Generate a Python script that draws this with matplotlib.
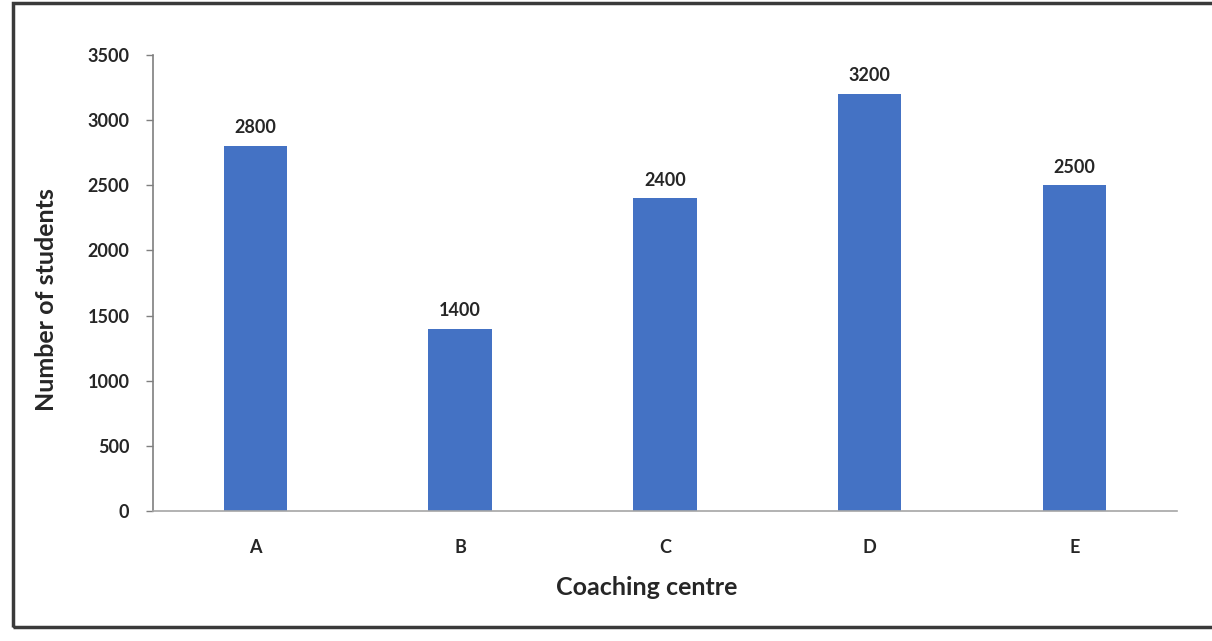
import matplotlib
matplotlib.use("Agg")
import matplotlib.pyplot as plt
from matplotlib.patches import Rectangle

categories = ["A", "B", "C", "D", "E"]
students = [2800, 1400, 2400, 3200, 2500]
yticks = [0, 500, 1000, 1500, 2000, 2500, 3000, 3500]

plt.rcParams['font.family'] = ['Lato', 'DejaVu Sans']

fig = plt.figure(figsize=(12.12, 6.41), dpi=100)
ax = fig.add_axes([0.1262, 0.2028, 0.8448, 0.7114])

x = list(range(len(categories)))
bars = ax.bar(x, students, width=0.31, color="#4472C4", zorder=2)

for xi, v in zip(x, students):
    ax.annotate(f"{v}", (xi, v), xytext=(0, 7), textcoords="offset points",
                ha="center", va="bottom", fontsize=13, fontweight="bold", color="#262626")

ax.set_xlim(-0.5, len(categories) - 0.5)
ax.set_ylim(0, 3500)
ax.set_yticks(yticks)
ax.set_xticks(x)
ax.set_xticklabels(categories)

for s in ["top", "right"]:
    ax.spines[s].set_visible(False)
ax.spines["left"].set_color("#7f7f7f")
ax.spines["bottom"].set_color("#a6a6a6")
ax.spines["left"].set_linewidth(1.2)
ax.spines["bottom"].set_linewidth(1.2)

ax.tick_params(axis="y", length=5, width=1, color="#7f7f7f", pad=12,
               labelsize=13, labelcolor="#262626")
ax.tick_params(axis="x", length=0, pad=20, labelsize=13, labelcolor="#262626")
for lab in ax.get_yticklabels() + ax.get_xticklabels():
    lab.set_fontweight("bold")

ax.set_xlabel("Coaching centre", fontsize=18, fontweight="bold", color="#262626")
ax.set_ylabel("Number of students", fontsize=18, fontweight="bold", color="#262626")
ax.xaxis.set_label_coords(0.482, -0.167)
ax.yaxis.set_label_coords(-0.1035, 0.463)
ax.xaxis.label.set_va("center")
ax.yaxis.label.set_va("center")

border = Rectangle((13 / 1212, 14 / 641), 1.02, 624 / 641, transform=fig.transFigure,
                   fill=False, edgecolor="#3a3a3a", linewidth=2.5, clip_on=False)
fig.patches.append(border)

fig.savefig("out.png", dpi=100)
